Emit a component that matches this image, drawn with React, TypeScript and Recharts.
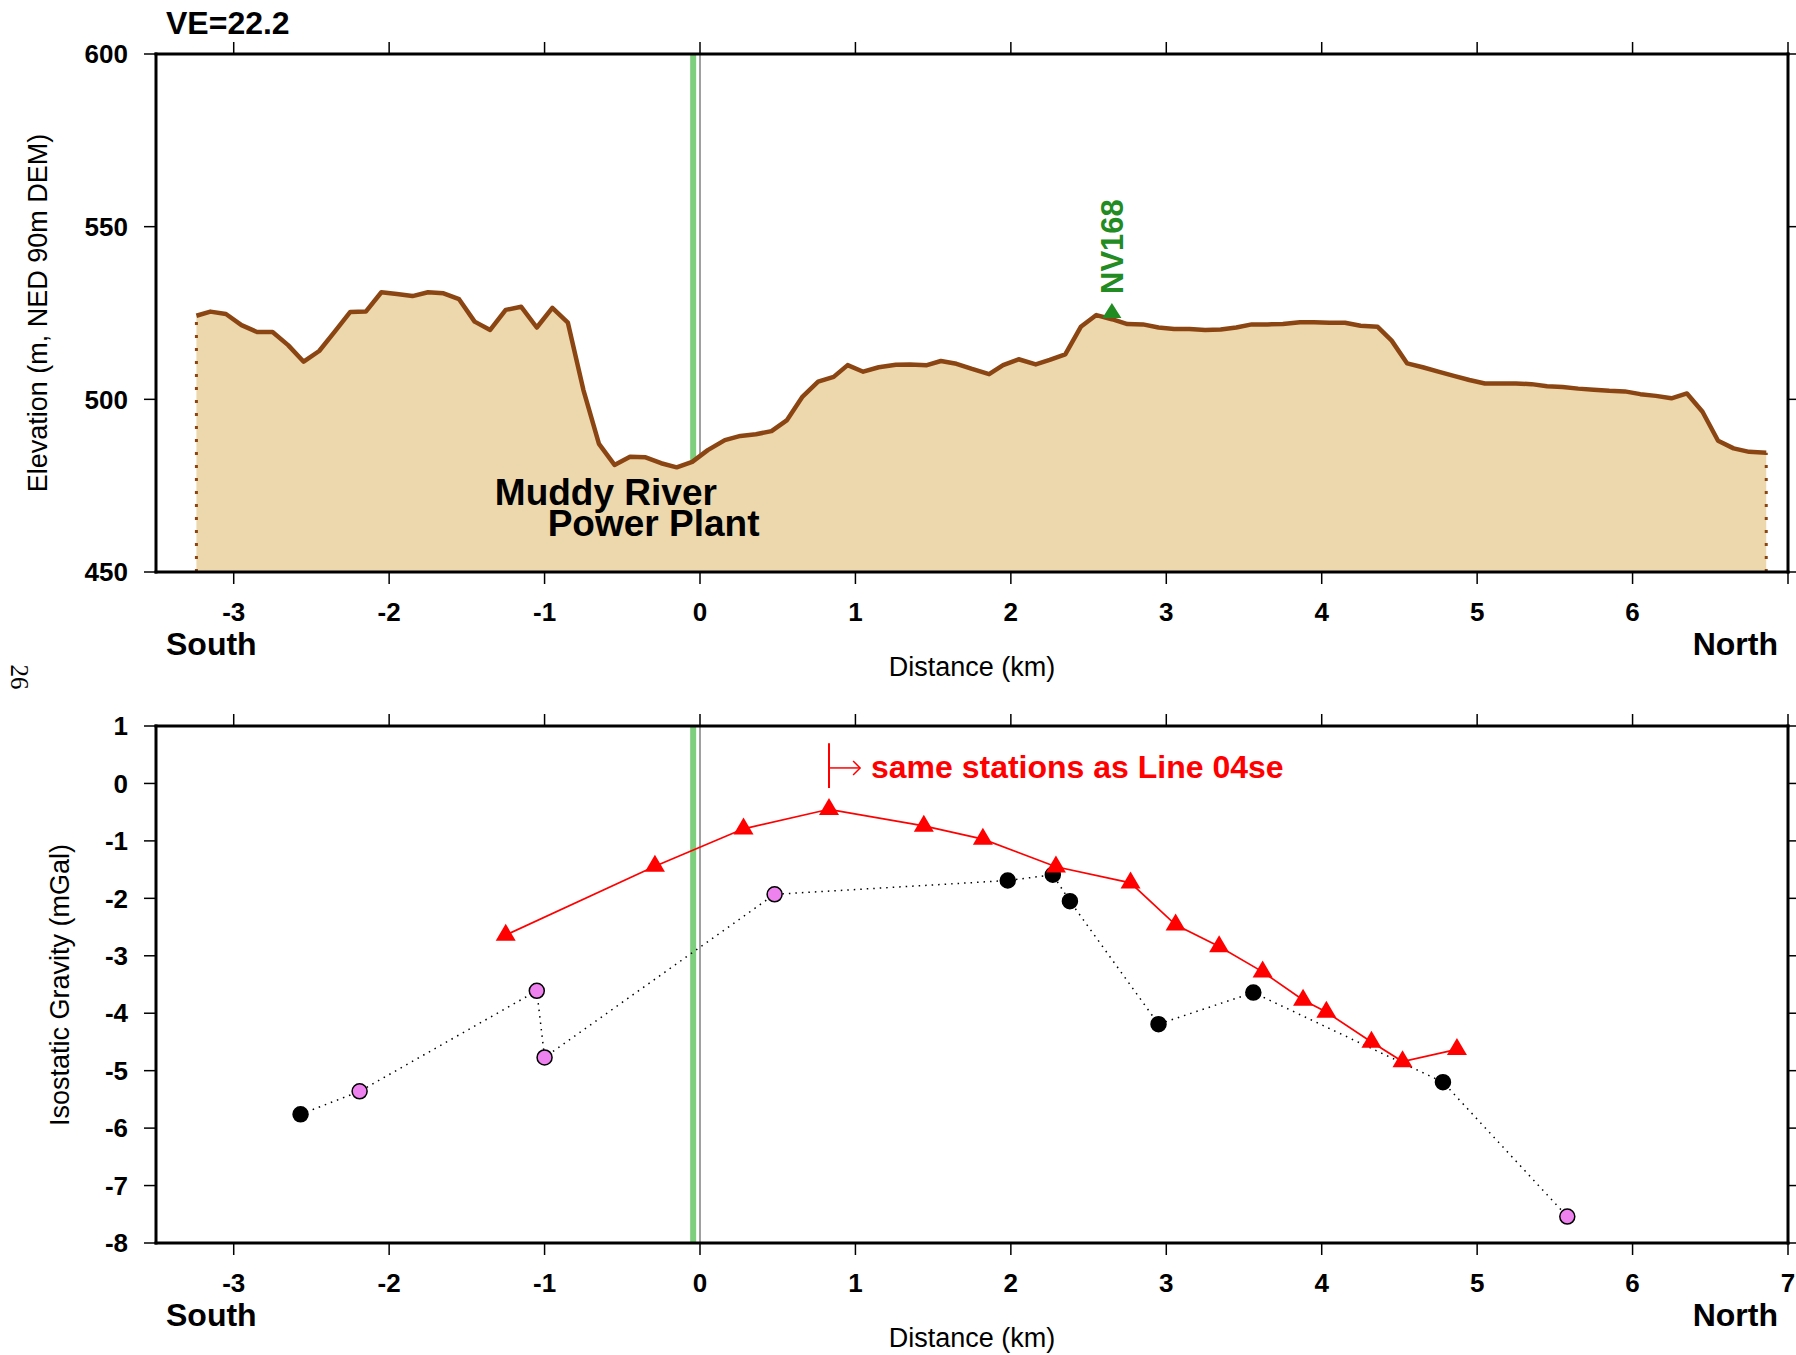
import React from 'react';
import { ComposedChart, Area, Line, Scatter, XAxis, YAxis, ReferenceLine, ReferenceDot } from 'recharts';

const FONT = '"Liberation Sans", Arial, Helvetica, sans-serif';

// elevation profile (km along line, m)
const profileKm = [
  -3.24, -3.15, -3.05, -2.95, -2.85, -2.75, -2.65, -2.55, -2.45, -2.35, -2.25, -2.15, -2.05, -1.95, -1.85,
  -1.75, -1.65, -1.55, -1.45, -1.35, -1.25, -1.15, -1.05, -0.95, -0.85, -0.75, -0.65, -0.55, -0.45, -0.35,
  -0.25, -0.15, -0.05, 0.05, 0.16, 0.26, 0.36, 0.46, 0.56, 0.66, 0.76, 0.86, 0.95, 1.05, 1.15,
  1.26, 1.35, 1.46, 1.55, 1.65, 1.75, 1.86, 1.95, 2.05, 2.16, 2.25, 2.35, 2.45, 2.55, 2.65,
  2.75, 2.85, 2.95, 3.05, 3.15, 3.25, 3.35, 3.45, 3.55, 3.65, 3.75, 3.86, 3.95, 4.05, 4.15,
  4.25, 4.36, 4.45, 4.55, 4.65, 4.75, 4.85, 4.95, 5.05, 5.15, 5.25, 5.35, 5.45, 5.55, 5.65,
  5.75, 5.85, 5.95, 6.05, 6.15, 6.25, 6.35, 6.45, 6.55, 6.65, 6.75, 6.86,
];
const profileElev = [
  524.2, 525.4, 524.7, 521.5, 519.5, 519.5, 515.7, 510.9, 514.0, 519.6, 525.3, 525.4, 531.0, 530.5, 529.9,
  531.0, 530.7, 529.0, 522.5, 520.1, 525.9, 526.8, 520.8, 526.5, 522.2, 502.7, 487.1, 481.0, 483.4, 483.2,
  481.5, 480.3, 481.9, 485.3, 488.2, 489.4, 489.9, 490.8, 494.0, 500.8, 505.1, 506.5, 509.9, 508.0, 509.3,
  510.0, 510.1, 509.9, 511.1, 510.3, 508.8, 507.3, 509.9, 511.6, 510.1, 511.4, 513.0, 521.0, 524.4, 523.2,
  521.8, 521.7, 520.8, 520.4, 520.4, 520.1, 520.2, 520.8, 521.7, 521.7, 521.8, 522.3, 522.3, 522.2, 522.2,
  521.3, 521.0, 517.0, 510.4, 509.3, 508.0, 506.8, 505.6, 504.6, 504.6, 504.6, 504.4, 503.8, 503.6, 503.1,
  502.8, 502.5, 502.3, 501.5, 501.0, 500.3, 501.7, 496.4, 488.0, 485.8, 484.8, 484.5,
];

// Line 04se stations (red triangles)
const triKm = [-1.25, -0.29, 0.28, 0.83, 1.44, 1.82, 2.29, 2.77, 3.06, 3.34, 3.62, 3.88, 4.03, 4.32, 4.52, 4.87];
const triGravity = [-2.64, -1.44, -0.79, -0.45, -0.74, -0.97, -1.45, -1.73, -2.46, -2.84, -3.28, -3.77, -3.98, -4.5, -4.84, -4.63];

// gravity stations along this line
const stationKm = [-2.57, -2.19, -1.05, -1.0, 0.48, 1.98, 2.27, 2.38, 2.95, 3.56, 4.78, 5.58];
const stationGravity = [-5.76, -5.36, -3.61, -4.77, -1.93, -1.69, -1.59, -2.05, -4.19, -3.64, -5.2, -7.54];
const stationKind = ['black', 'pink', 'pink', 'pink', 'pink', 'black', 'black', 'black', 'black', 'black', 'black', 'pink'];

const benchmarkKm = [2.65];
const benchmarkElev = [525.0];

const kmTicks = [-3, -2, -1, 0, 1, 2, 3, 4, 5, 6, 7];
const elevTicks = [450, 500, 550, 600];
const gravTicks = [1, 0, -1, -2, -3, -4, -5, -6, -7, -8];
const plantKm = -0.044;

const profile = profileKm.map((x, i) => ({ x, y: profileElev[i] }));
const triangles = triKm.map((x, i) => ({ x, y: triGravity[i] }));
const stations = stationKm.map((x, i) => ({ x, y: stationGravity[i], kind: stationKind[i] }));
const benchmark = benchmarkKm.map((x, i) => ({ x, y: benchmarkElev[i] }));
const firstPt = profile[0];
const lastPt = profile[profile.length - 1];

const axisLine = { stroke: '#000', strokeWidth: 3, strokeLinecap: 'square' as const };
const tickLine = { stroke: '#000', strokeWidth: 1.5 };
const tickFont = { fontSize: 26, fontWeight: 700, fill: '#000', fontFamily: FONT };
const noLabel = () => <g />;

const renderTriangle = (p: any) => {
  const { cx, cy, index } = p;
  if (cx == null || cy == null) return <g key={index} />;
  return <path key={index} d={`M${cx},${cy - 11.3} L${cx + 10},${cy + 5.7} L${cx - 10},${cy + 5.7} Z`} fill="#FF0000" />;
};

const renderStation = (p: any) => {
  const { cx, cy, index, payload } = p;
  if (cx == null || cy == null) return <g key={index} />;
  return (
    <circle key={index} cx={cx} cy={cy} r={7.5} fill={payload.kind === 'pink' ? '#EE82EE' : '#000'}
      stroke="#000" strokeWidth={1.5} />
  );
};

const renderBenchmark = (p: any) => {
  const { cx, cy } = p;
  return (
    <g>
      <path d={`M${cx},${cy - 10} L${cx + 9.5},${cy + 5} L${cx - 9.5},${cy + 5} Z`} fill="#228B22" />
      <text transform={`translate(${cx + 11},${cy - 19}) rotate(-90)`} fill="#228B22" fontSize={31}
        fontWeight={700} fontFamily={FONT}>NV168</text>
    </g>
  );
};

const renderArrow = (p: any) => {
  const { x1, y1, x2, y2 } = p;
  return (
    <g stroke="#FF0000" strokeWidth={1.5} fill="none">
      <line x1={x1} y1={y1} x2={x2} y2={y2} />
      <polyline points={`${x2 - 7},${y2 - 7} ${x2},${y2} ${x2 - 7},${y2 + 7}`} />
    </g>
  );
};

const plotText = (text: string, size: number, color: string, middle = false) => (p: any) => {
  const { x, y } = p.viewBox;
  return (
    <text x={x} y={y} fontSize={size} fontWeight={700} fill={color} fontFamily={FONT}
      dominantBaseline={middle ? 'central' : 'auto'}>{text}</text>
  );
};

function ProfileChart() {
  return (
    <ComposedChart width={1796} height={672} margin={{ top: 0, right: 0, bottom: 0, left: 0 }}>
      <XAxis xAxisId="top" orientation="top" type="number" dataKey="x" domain={[-3.5, 7]} ticks={kmTicks}
        interval={0} allowDataOverflow height={54} tickSize={12} tick={noLabel} axisLine={axisLine} tickLine={tickLine} />
      <XAxis type="number" dataKey="x" domain={[-3.5, 7]} ticks={kmTicks} interval={0} allowDataOverflow
        height={100} tickSize={12} tickMargin={19} tick={tickFont} tickFormatter={(v: number) => (v === 7 ? '' : String(v))}
        axisLine={axisLine} tickLine={tickLine} />
      <YAxis type="number" domain={[450, 600]} ticks={elevTicks} interval={0} allowDataOverflow width={156}
        tickSize={12} tickMargin={16} tick={tickFont} axisLine={axisLine} tickLine={tickLine} />
      <YAxis yAxisId="right" orientation="right" type="number" domain={[450, 600]} ticks={elevTicks} interval={0}
        allowDataOverflow width={8} tickSize={10} tick={noLabel} axisLine={axisLine} tickLine={tickLine} />

      <Line data={[{ x: plantKm, y: 450 }, { x: plantKm, y: 600 }]} dataKey="y" stroke="#7DCF7D" strokeWidth={6}
        dot={false} activeDot={false} isAnimationActive={false} zIndex={50} />
      <Line data={[{ x: 0, y: 450 }, { x: 0, y: 600 }]} dataKey="y" stroke="#808080" strokeWidth={1.5}
        dot={false} activeDot={false} isAnimationActive={false} zIndex={50} />
      <Area data={profile} dataKey="y" type="linear" baseValue={450} stroke="#8B4513" strokeWidth={4.5}
        strokeLinejoin="round" fill="#EDD8AE" fillOpacity={1} dot={false} activeDot={false} isAnimationActive={false} />
      <Line data={[{ x: firstPt.x, y: 450 }, firstPt]} dataKey="y" stroke="#8B4513" strokeWidth={3}
        strokeDasharray="3 10" dot={false} activeDot={false} isAnimationActive={false} />
      <Line data={[{ x: lastPt.x, y: 450 }, lastPt]} dataKey="y" stroke="#8B4513" strokeWidth={3}
        strokeDasharray="3 10" dot={false} activeDot={false} isAnimationActive={false} />
      <Scatter data={benchmark} dataKey="y" shape={renderBenchmark} isAnimationActive={false} />

      <ReferenceDot x={-1.32} y={469.4} r={0} fill="none" stroke="none" label={plotText('Muddy River', 37, '#000')} />
      <ReferenceDot x={-0.98} y={460.3} r={0} fill="none" stroke="none" label={plotText('Power Plant', 37, '#000')} />
    </ComposedChart>
  );
}

function GravityChart() {
  return (
    <ComposedChart width={1796} height={683} margin={{ top: 0, right: 0, bottom: 0, left: 0 }}>
      <XAxis xAxisId="top" orientation="top" type="number" dataKey="x" domain={[-3.5, 7]} ticks={kmTicks}
        interval={0} allowDataOverflow height={54} tickSize={12} tick={noLabel} axisLine={axisLine} tickLine={tickLine} />
      <XAxis type="number" dataKey="x" domain={[-3.5, 7]} ticks={kmTicks} interval={0} allowDataOverflow
        height={112} tickSize={12} tickMargin={19} tick={tickFont} axisLine={axisLine} tickLine={tickLine} />
      <YAxis type="number" domain={[-8, 1]} ticks={gravTicks} interval={0} allowDataOverflow width={156}
        tickSize={12} tickMargin={16} tick={tickFont} axisLine={axisLine} tickLine={tickLine} />
      <YAxis yAxisId="right" orientation="right" type="number" domain={[-8, 1]} ticks={gravTicks} interval={0}
        allowDataOverflow width={8} tickSize={10} tick={noLabel} axisLine={axisLine} tickLine={tickLine} />

      <Line data={[{ x: plantKm, y: -8 }, { x: plantKm, y: 1 }]} dataKey="y" stroke="#7DCF7D" strokeWidth={6}
        dot={false} activeDot={false} isAnimationActive={false} zIndex={50} />
      <Line data={[{ x: 0, y: -8 }, { x: 0, y: 1 }]} dataKey="y" stroke="#808080" strokeWidth={1.5}
        dot={false} activeDot={false} isAnimationActive={false} zIndex={50} />

      <Line data={stations} dataKey="y" type="linear" stroke="#000" strokeWidth={1.5} strokeDasharray="1.5 5"
        dot={renderStation} activeDot={false} isAnimationActive={false} />
      <Line data={triangles} dataKey="y" type="linear" stroke="#FF0000" strokeWidth={1.7}
        dot={renderTriangle} activeDot={false} isAnimationActive={false} />

      <ReferenceLine segment={[{ x: 0.83, y: 0.7 }, { x: 0.83, y: -0.08 }]} stroke="#FF0000" strokeWidth={2} />
      <ReferenceLine segment={[{ x: 0.83, y: 0.27 }, { x: 1.03, y: 0.27 }]} stroke="#FF0000" shape={renderArrow} />
      <ReferenceDot x={1.1} y={0.28} r={0} fill="none" stroke="none"
        label={plotText('same stations as Line 04se', 32, '#FF0000', true)} />
    </ComposedChart>
  );
}

export default function App() {
  return (
    <div style={{ position: 'absolute', left: 0, top: 0, width: 1796, height: 1355, background: '#fff' }}>
      <div style={{ position: 'absolute', left: 0, top: 0 }}>
        <ProfileChart />
      </div>
      <div style={{ position: 'absolute', left: 0, top: 672 }}>
        <GravityChart />
      </div>
      <svg width={1796} height={1355} style={{ position: 'absolute', left: 0, top: 0, pointerEvents: 'none' }}
        fontFamily={FONT} fill="#000">
        <text x={166} y={34} fontSize={32} fontWeight={700}>VE=22.2</text>
        {[0, 671].map((dy) => (
          <g key={dy}>
            <text x={166} y={655 + dy} fontSize={32} fontWeight={700}>South</text>
            <text x={1778} y={655 + dy} fontSize={32} fontWeight={700} textAnchor="end">North</text>
            <text x={972} y={676 + dy} fontSize={27} textAnchor="middle">Distance (km)</text>
          </g>
        ))}
        <text transform="translate(47,313) rotate(-90)" fontSize={27} textAnchor="middle">Elevation (m, NED 90m DEM)</text>
        <text transform="translate(69,985) rotate(-90)" fontSize={27} textAnchor="middle">Isostatic Gravity (mGal)</text>
        <text transform="translate(11,677) rotate(90)" fontSize={25} textAnchor="middle"
          fontFamily='"Liberation Serif", "DejaVu Serif", serif'>26</text>
      </svg>
    </div>
  );
}
